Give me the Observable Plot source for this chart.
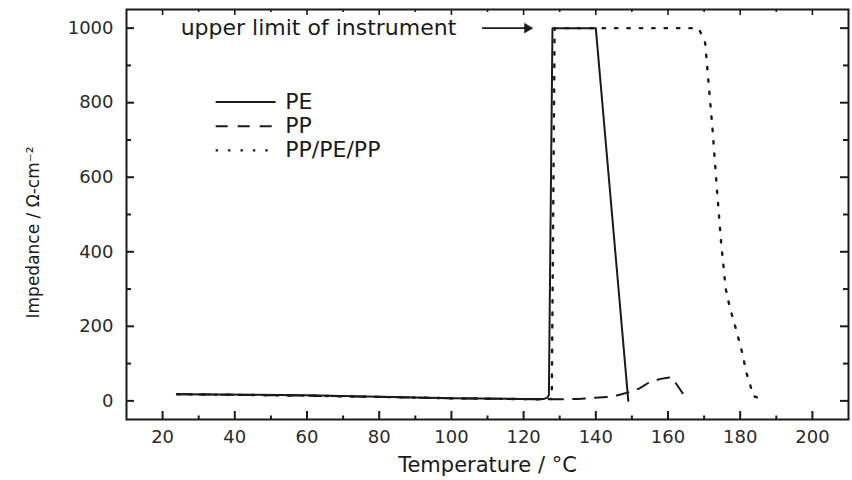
<!DOCTYPE html>
<html><head><meta charset="utf-8">
<script src="https://cdn.jsdelivr.net/npm/d3@7"></script>
<script src="https://cdn.jsdelivr.net/npm/@observablehq/plot@0.6"></script>
<style>html,body{margin:0;padding:0;background:#fff}svg{display:block}</style>
</head><body><div id="chart"></div>
<script>
// ---- data ----
const seriesNames = ["PE", "PP", "PP/PE/PP"];
const peTemp = [24, 60, 80, 100, 120, 125.5, 126.5, 127, 128, 140, 149];
const peImp  = [18, 15, 11, 7, 5, 5, 8, 15, 1000, 1000, 0];
const ppTemp = [24, 60, 100, 125, 128, 135, 145, 149.5, 152, 155, 158, 161, 165.5];
const ppImp  = [18, 14, 7, 4, 4, 5, 12, 24, 33, 51, 59, 64, 0];
const triTemp = [24, 60, 100, 125, 127.8, 128.6, 168.5, 170.3, 171, 172.4, 173.5, 174.7, 176, 177.1, 178.9, 180.5, 181.8, 182.8, 183.6, 186.6];
const triImp  = [18, 14, 7, 4, 5, 1000, 1000, 960, 880, 721, 574, 426, 300, 252, 190, 131, 73, 42, 13, 3];
const xTicks = [20, 40, 60, 80, 100, 120, 140, 160, 180, 200];
const xMinorTicks = [30, 50, 70, 90, 110, 130, 150, 170, 190];
const yTicks = [0, 200, 400, 600, 800, 1000];
const yMinorTicks = [100, 300, 500, 700, 900];
const annotationText = ["upper limit of instrument"];
const annotationTemp = [25];       // where the note starts
const arrowTemp = [108.5, 121];    // arrow tail / head
const limitImp = [1000];
const xLabel = "Temperature / °C";
const yLabel = "Impedance / Ω-cm⁻²";

// ---- layout ----
const W = 852, H = 480;
const mL = 126, mR = 4, mT = 9, mB = 61;
const plotW = W - mL - mR, plotH = H - mT - mB;
const ink = "#1a1a1a";
const font = "DejaVu Sans";

const toRows = (t, v, s) => t.map((x, i) => ({temp: x, imp: v[i], series: s}));
const pe = toRows(peTemp, peImp, seriesNames[0]);
const pp = toRows(ppTemp, ppImp, seriesNames[1]);
const tri = toRows(triTemp, triImp, seriesNames[2]);

const styles = [
  {strokeWidth: 2},
  {strokeWidth: 2, strokeDasharray: "12,10"},
  {strokeWidth: 2.4, strokeDasharray: "2.4,10"}
];

// legend (inside the frame, upper left, in data space)
const legendX1 = 34.7, legendX2 = 51.3, legendTextX = 54;
const legendTop = 802, legendStep = 65;
const legend = seriesNames.map((s, i) => ({series: s, y: legendTop - i * legendStep, i}));

const chart = Plot.plot({
  width: W, height: H,
  marginLeft: mL, marginRight: mR, marginTop: mT, marginBottom: mB,
  style: {fontFamily: font, color: ink, background: "#fff"},
  x: {domain: [10, 210]},
  y: {domain: [-50, 1050]},
  marks: [
    // inward ticks, all four sides
    Plot.tickX(xTicks, {x: d => d, insetTop: plotH - 8, stroke: ink, strokeWidth: 2}),
    Plot.tickX(xMinorTicks, {x: d => d, insetTop: plotH - 3.5, stroke: ink, strokeWidth: 2}),
    Plot.tickX(xTicks, {x: d => d, insetBottom: plotH - 6, stroke: ink, strokeWidth: 1.6}),
    Plot.tickX(xMinorTicks, {x: d => d, insetBottom: plotH - 3, stroke: ink, strokeWidth: 1.6}),
    Plot.tickY(yTicks, {y: d => d, insetRight: plotW - 8, stroke: ink, strokeWidth: 2}),
    Plot.tickY(yMinorTicks, {y: d => d, insetRight: plotW - 5, stroke: ink, strokeWidth: 2}),
    Plot.tickY(yTicks, {y: d => d, insetLeft: plotW - 8, stroke: ink, strokeWidth: 2}),
    Plot.tickY(yMinorTicks, {y: d => d, insetLeft: plotW - 5, stroke: ink, strokeWidth: 2}),
    Plot.axisX(xTicks, {tickSize: 0, tickPadding: 11, fontSize: 18, label: null, tickFormat: d => String(d), fill: "#2a2a2a"}),
    Plot.axisY(yTicks, {tickSize: 0, tickPadding: 13, fontSize: 18, label: null, tickFormat: d => String(d), fill: "#2a2a2a"}),
    // series
    Plot.line(pe, {x: "temp", y: "imp", stroke: ink, ...styles[0]}),
    Plot.line(pp, {x: "temp", y: "imp", stroke: ink, ...styles[1]}),
    Plot.line(tri, {x: "temp", y: "imp", stroke: ink, ...styles[2]}),
    // legend
    ...legend.map(d => Plot.link([d], {x1: () => legendX1, x2: () => legendX2, y1: "y", y2: "y", stroke: ink, ...styles[d.i]})),
    Plot.text(legend, {x: () => legendTextX, y: "y", text: "series", textAnchor: "start", fontSize: 22, fill: ink}),
    // annotation
    Plot.text(annotationText, {x: () => annotationTemp[0], y: () => limitImp[0], text: d => d, textAnchor: "start", fontSize: 22, fill: ink}),
    Plot.link([0], {x1: () => arrowTemp[0], x2: () => arrowTemp[1], y1: () => limitImp[0], y2: () => limitImp[0], stroke: ink, strokeWidth: 1.6}),
    Plot.dot([0], {x: () => arrowTemp[1], y: () => limitImp[0], symbol: "triangle", r: 3.6, rotate: 90, fill: ink, stroke: ink, strokeWidth: 0.5}),
    // axis titles
    Plot.text([xLabel], {frameAnchor: "bottom", text: d => d, textAnchor: "middle", lineAnchor: "middle", dy: 46, fontSize: 21, fill: ink}),
    Plot.text([yLabel], {frameAnchor: "left", text: d => d, textAnchor: "middle", lineAnchor: "middle", rotate: -90, dx: -93, dy: 18, fontSize: 17, fill: ink}),
    Plot.frame({stroke: ink, strokeWidth: 2})
  ]
});
document.getElementById("chart").append(chart);
</script>
</body></html>
